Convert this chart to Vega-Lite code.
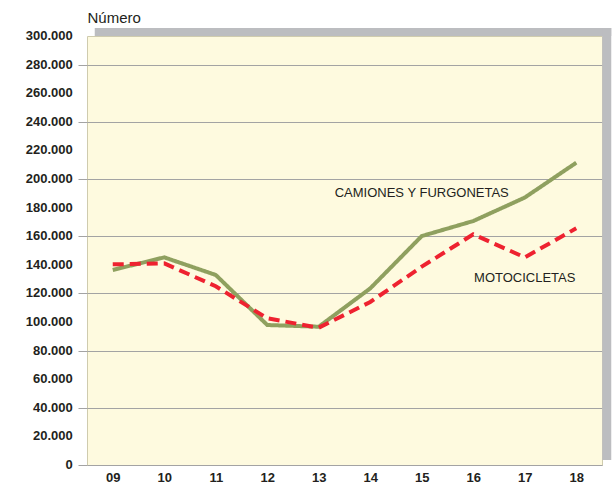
{
  "$schema": "https://vega.github.io/schema/vega-lite/v6.json",
  "width": 515,
  "height": 429,
  "autosize": {"type": "none"},
  "padding": {"left": 87, "top": 36, "right": 10, "bottom": 28},
  "background": "#ffffff",
  "config": {
    "view": {"fill": "#FEFADF", "stroke": "#CFCBAE", "strokeWidth": 1},
    "font": "Liberation Sans"
  },
  "datasets": {
    "series": [
      {"year": "09", "serie": "CAMIONES Y FURGONETAS", "valor": 136400},
      {"year": "10", "serie": "CAMIONES Y FURGONETAS", "valor": 145200},
      {"year": "11", "serie": "CAMIONES Y FURGONETAS", "valor": 132900},
      {"year": "12", "serie": "CAMIONES Y FURGONETAS", "valor": 97900},
      {"year": "13", "serie": "CAMIONES Y FURGONETAS", "valor": 96700},
      {"year": "14", "serie": "CAMIONES Y FURGONETAS", "valor": 123500},
      {"year": "15", "serie": "CAMIONES Y FURGONETAS", "valor": 160100},
      {"year": "16", "serie": "CAMIONES Y FURGONETAS", "valor": 170600},
      {"year": "17", "serie": "CAMIONES Y FURGONETAS", "valor": 187000},
      {"year": "18", "serie": "CAMIONES Y FURGONETAS", "valor": 211400},
      {"year": "09", "serie": "MOTOCICLETAS", "valor": 140300},
      {"year": "10", "serie": "MOTOCICLETAS", "valor": 141000},
      {"year": "11", "serie": "MOTOCICLETAS", "valor": 125000},
      {"year": "12", "serie": "MOTOCICLETAS", "valor": 102600},
      {"year": "13", "serie": "MOTOCICLETAS", "valor": 96000},
      {"year": "14", "serie": "MOTOCICLETAS", "valor": 114000},
      {"year": "15", "serie": "MOTOCICLETAS", "valor": 138700},
      {"year": "16", "serie": "MOTOCICLETAS", "valor": 161300},
      {"year": "17", "serie": "MOTOCICLETAS", "valor": 145200},
      {"year": "18", "serie": "MOTOCICLETAS", "valor": 165500}
    ],
    "labels": [
      {"year": "15", "valor": 190200, "texto": "CAMIONES Y FURGONETAS"},
      {"year": "17", "valor": 130800, "texto": "MOTOCICLETAS"}
    ],
    "ticks": [
      {"valor": 0, "texto": "0"},
      {"valor": 20000, "texto": "20.000"},
      {"valor": 40000, "texto": "40.000"},
      {"valor": 60000, "texto": "60.000"},
      {"valor": 80000, "texto": "80.000"},
      {"valor": 100000, "texto": "100.000"},
      {"valor": 120000, "texto": "120.000"},
      {"valor": 140000, "texto": "140.000"},
      {"valor": 160000, "texto": "160.000"},
      {"valor": 180000, "texto": "180.000"},
      {"valor": 200000, "texto": "200.000"},
      {"valor": 220000, "texto": "220.000"},
      {"valor": 240000, "texto": "240.000"},
      {"valor": 260000, "texto": "260.000"},
      {"valor": 280000, "texto": "280.000"},
      {"valor": 300000, "texto": "300.000"}
    ]
  },
  "layer": [
    {
      "data": {"name": "series"},
      "mark": {"type": "line", "strokeWidth": 4, "strokeJoin": "miter", "strokeCap": "butt"},
      "encoding": {
        "x": {
          "field": "year", "type": "ordinal",
          "scale": {"type": "point", "padding": 0.5},
          "axis": {
            "title": null, "labelAngle": 0, "ticks": false, "domain": false, "grid": false,
            "labelFont": "Liberation Sans", "labelFontSize": 13, "labelFontWeight": "bold",
            "labelColor": "#231F20", "labelPadding": 6
          }
        },
        "y": {
          "field": "valor", "type": "quantitative",
          "scale": {"domain": [0, 300000], "nice": false},
          "axis": {
            "values": [0, 20000, 40000, 60000, 80000, 100000, 120000, 140000, 160000, 180000, 200000, 220000, 240000, 260000, 280000, 300000],
            "labels": false,
            "domain": false,
            "grid": true, "gridColor": "#A3A3A3", "gridWidth": 1,
            "ticks": true, "tickSize": 9, "tickColor": "#A3A3A3", "tickWidth": 1,
            "title": "Número", "titleAngle": 0, "titleAlign": "left", "titleBaseline": "alphabetic",
            "titleX": 0, "titleY": -14, "titleFont": "Liberation Sans", "titleFontSize": 15,
            "titleFontWeight": "normal", "titleColor": "#231F20"
          }
        },
        "color": {
          "field": "serie", "type": "nominal",
          "scale": {"domain": ["CAMIONES Y FURGONETAS", "MOTOCICLETAS"], "range": ["#8FA05F", "#EE2230"]},
          "legend": null
        },
        "strokeDash": {
          "field": "serie", "type": "nominal",
          "scale": {"domain": ["CAMIONES Y FURGONETAS", "MOTOCICLETAS"], "range": [[1, 0], [11, 6]]},
          "legend": null
        },
        "order": {"field": "serie", "sort": "ascending"}
      }
    },
    {
      "data": {"values": [{}]},
      "mark": {"type": "rect", "fill": "#BCBDC0", "xOffset": -18, "x2Offset": 35, "yOffset": -8, "y2Offset": 0},
      "encoding": {
        "x": {"datum": "09"},
        "x2": {"datum": "18"},
        "y": {"datum": 300000},
        "y2": {"datum": 300000}
      }
    },
    {
      "data": {"values": [{}]},
      "mark": {"type": "rect", "fill": "#BCBDC0", "xOffset": 26, "x2Offset": 35, "yOffset": -8, "y2Offset": -5},
      "encoding": {
        "x": {"datum": "18"},
        "x2": {"datum": "18"},
        "y": {"datum": 300000},
        "y2": {"datum": 0}
      }
    },
    {
      "data": {"name": "ticks"},
      "mark": {"type": "text", "font": "Liberation Sans", "fontSize": 13, "fontWeight": "bold", "color": "#231F20", "align": "right", "baseline": "middle", "xOffset": -40},
      "encoding": {
        "x": {"datum": "09"},
        "y": {"field": "valor", "type": "quantitative"},
        "text": {"field": "texto"}
      }
    },
    {
      "data": {"name": "labels"},
      "mark": {"type": "text", "font": "Liberation Sans", "fontSize": 13, "color": "#231F20", "align": "center", "baseline": "middle"},
      "encoding": {
        "x": {"field": "year", "type": "ordinal"},
        "y": {"field": "valor", "type": "quantitative"},
        "text": {"field": "texto"}
      }
    }
  ]
}
